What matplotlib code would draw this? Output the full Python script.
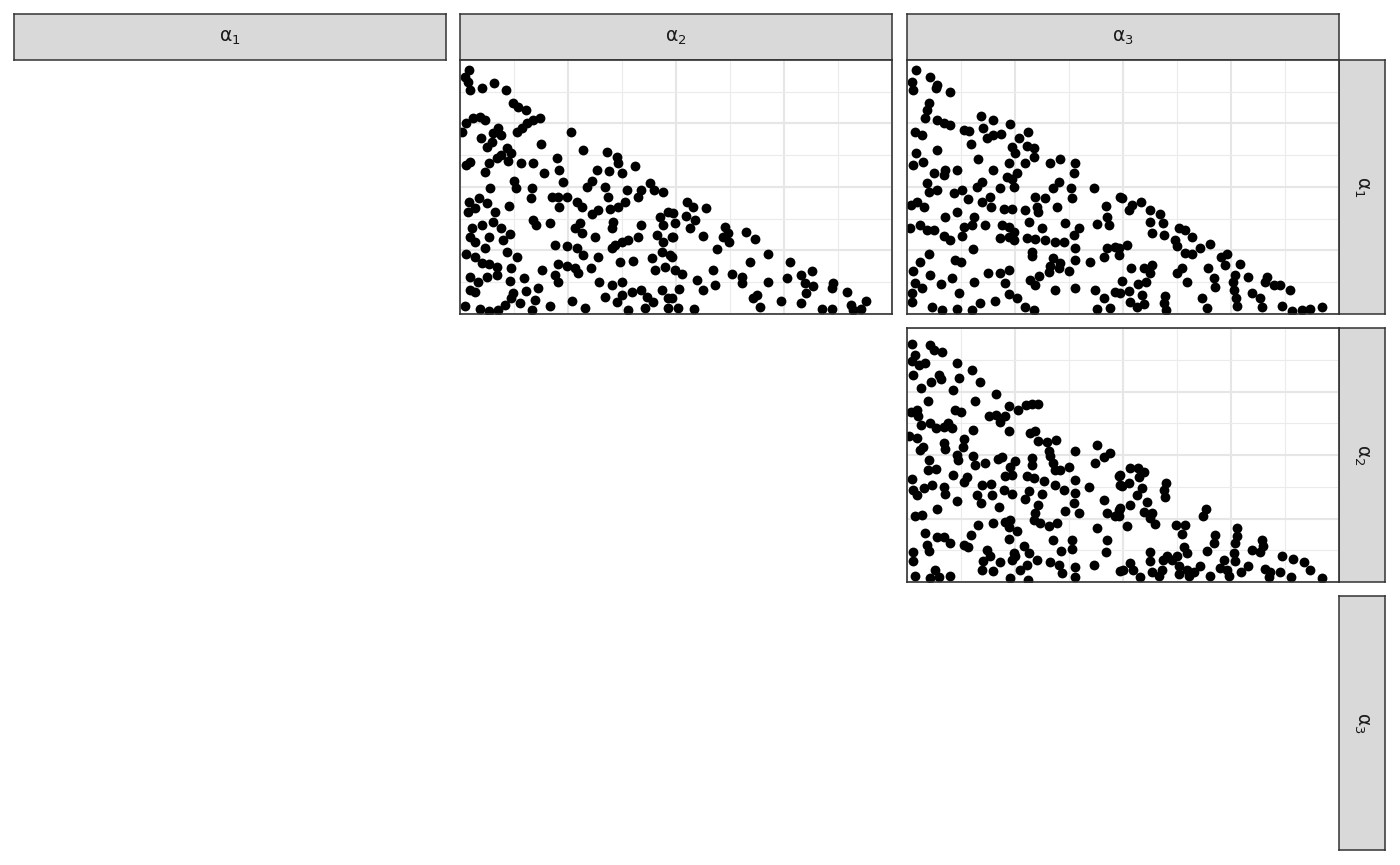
import numpy as np
import matplotlib.pyplot as plt

# Style (ggplot theme_bw look)
plt.rcParams.update({'font.family': ['DejaVu Sans'], 'font.size': 13})

labels = ['α$_1$', 'α$_2$', 'α$_3$']

# panel (row alpha1, col alpha2): (alpha2, alpha1)
pts_12 = [
    (0.021, 0.961), (0.012, 0.934), (0.019, 0.915), (0.023, 0.882), (0.050, 0.888), (0.079, 0.908),
    (0.106, 0.882), (0.123, 0.829), (0.135, 0.816), (0.152, 0.803), (0.015, 0.751), (0.031, 0.770),
    (0.046, 0.777), (0.058, 0.764), (0.004, 0.718), (0.154, 0.751), (0.170, 0.764), (0.185, 0.773),
    (0.143, 0.731), (0.131, 0.718), (0.087, 0.731), (0.077, 0.711), (0.096, 0.705), (0.048, 0.694),
    (0.073, 0.678), (0.062, 0.659), (0.258, 0.718), (0.187, 0.668), (0.108, 0.652), (0.119, 0.633),
    (0.096, 0.626), (0.085, 0.613), (0.066, 0.593), (0.059, 0.560), (0.023, 0.600), (0.015, 0.587),
    (0.112, 0.602), (0.141, 0.593), (0.170, 0.593), (0.195, 0.554), (0.224, 0.613), (0.229, 0.567),
    (0.239, 0.521), (0.285, 0.646), (0.340, 0.636), (0.363, 0.619), (0.366, 0.593), (0.405, 0.584),
    (0.316, 0.567), (0.345, 0.563), (0.374, 0.554), (0.126, 0.524), (0.129, 0.495), (0.166, 0.497),
    (0.069, 0.497), (0.164, 0.455), (0.212, 0.462), (0.227, 0.462), (0.247, 0.462), (0.229, 0.423),
    (0.270, 0.442), (0.282, 0.423), (0.293, 0.501), (0.305, 0.524), (0.336, 0.501), (0.343, 0.462),
    (0.386, 0.488), (0.411, 0.462), (0.420, 0.488), (0.440, 0.514), (0.450, 0.488), (0.471, 0.479),
    (0.382, 0.442), (0.366, 0.423), (0.347, 0.413), (0.320, 0.409), (0.305, 0.392), (0.021, 0.442),
    (0.044, 0.458), (0.062, 0.436), (0.019, 0.403), (0.035, 0.416), (0.081, 0.403), (0.113, 0.427),
    (0.170, 0.370), (0.208, 0.357), (0.177, 0.350), (0.027, 0.337), (0.050, 0.350), (0.077, 0.364),
    (0.066, 0.304), (0.023, 0.304), (0.096, 0.337), (0.116, 0.314), (0.100, 0.291), (0.108, 0.245),
    (0.058, 0.261), (0.035, 0.285), (0.015, 0.235), (0.278, 0.357), (0.266, 0.337), (0.282, 0.318),
    (0.312, 0.304), (0.355, 0.364), (0.351, 0.337), (0.420, 0.350), (0.413, 0.304), (0.390, 0.291),
    (0.374, 0.285), (0.359, 0.272), (0.351, 0.259), (0.455, 0.311), (0.463, 0.383), (0.482, 0.403),
    (0.471, 0.350), (0.490, 0.304), (0.471, 0.285), (0.220, 0.272), (0.247, 0.269), (0.270, 0.259),
    (0.285, 0.232), (0.320, 0.226), (0.370, 0.206), (0.401, 0.209), (0.444, 0.219), (0.467, 0.245),
    (0.486, 0.232), (0.451, 0.173), (0.474, 0.186), (0.131, 0.226), (0.035, 0.226), (0.050, 0.199),
    (0.066, 0.196), (0.085, 0.186), (0.119, 0.182), (0.085, 0.154), (0.023, 0.147), (0.042, 0.127),
    (0.062, 0.147), (0.023, 0.094), (0.035, 0.088), (0.227, 0.196), (0.247, 0.190), (0.266, 0.180),
    (0.274, 0.160), (0.303, 0.180), (0.220, 0.154), (0.228, 0.127), (0.190, 0.173), (0.147, 0.140),
    (0.116, 0.130), (0.322, 0.127), (0.351, 0.114), (0.374, 0.127), (0.397, 0.088), (0.420, 0.094),
    (0.374, 0.075), (0.363, 0.049), (0.432, 0.068), (0.447, 0.049), (0.467, 0.094), (0.482, 0.062),
    (0.123, 0.081), (0.152, 0.091), (0.181, 0.101), (0.174, 0.055), (0.139, 0.042), (0.119, 0.062),
    (0.208, 0.033), (0.259, 0.051), (0.289, 0.022), (0.336, 0.068), (0.428, 0.022), (0.390, 0.016),
    (0.012, 0.033), (0.046, 0.020), (0.066, 0.012), (0.089, 0.016), (0.104, 0.035), (0.166, 0.016),
    (0.482, 0.022), (0.525, 0.442), (0.539, 0.423), (0.570, 0.416), (0.494, 0.396), (0.498, 0.357),
    (0.523, 0.387), (0.544, 0.370), (0.532, 0.340), (0.494, 0.304), (0.562, 0.308), (0.613, 0.344),
    (0.609, 0.304), (0.621, 0.317), (0.623, 0.282), (0.594, 0.256), (0.662, 0.324), (0.683, 0.295),
    (0.671, 0.206), (0.714, 0.236), (0.764, 0.206), (0.490, 0.226), (0.498, 0.173), (0.515, 0.157),
    (0.548, 0.134), (0.586, 0.173), (0.590, 0.114), (0.629, 0.157), (0.652, 0.147), (0.652, 0.121),
    (0.714, 0.127), (0.756, 0.140), (0.790, 0.154), (0.814, 0.169), (0.799, 0.121), (0.818, 0.112),
    (0.801, 0.081), (0.864, 0.121), (0.861, 0.101), (0.895, 0.085), (0.508, 0.097), (0.562, 0.094),
    (0.490, 0.062), (0.505, 0.025), (0.541, 0.020), (0.687, 0.075), (0.679, 0.062), (0.694, 0.029),
    (0.743, 0.051), (0.789, 0.042), (0.837, 0.018), (0.862, 0.020), (0.906, 0.035), (0.910, 0.016),
    (0.929, 0.020), (0.940, 0.051),
]

# panel (row alpha1, col alpha3): (alpha3, alpha1)
pts_13 = [
    (0.021, 0.961), (0.054, 0.934), (0.012, 0.915), (0.015, 0.882), (0.069, 0.901), (0.066, 0.888),
    (0.100, 0.873), (0.050, 0.829), (0.046, 0.803), (0.042, 0.770), (0.069, 0.764), (0.085, 0.751),
    (0.100, 0.744), (0.019, 0.718), (0.035, 0.705), (0.131, 0.724), (0.143, 0.720), (0.172, 0.781),
    (0.200, 0.764), (0.177, 0.731), (0.185, 0.691), (0.200, 0.705), (0.218, 0.709), (0.239, 0.747),
    (0.280, 0.718), (0.260, 0.691), (0.243, 0.659), (0.251, 0.633), (0.278, 0.663), (0.293, 0.652),
    (0.293, 0.619), (0.274, 0.593), (0.147, 0.668), (0.069, 0.646), (0.021, 0.633), (0.015, 0.587),
    (0.036, 0.597), (0.164, 0.610), (0.235, 0.593), (0.332, 0.593), (0.355, 0.610), (0.390, 0.593),
    (0.386, 0.554), (0.200, 0.567), (0.231, 0.541), (0.243, 0.531), (0.255, 0.554), (0.062, 0.557),
    (0.089, 0.567), (0.085, 0.547), (0.116, 0.567), (0.046, 0.514), (0.050, 0.482), (0.069, 0.488),
    (0.108, 0.475), (0.127, 0.488), (0.141, 0.453), (0.162, 0.501), (0.174, 0.521), (0.174, 0.442),
    (0.193, 0.462), (0.195, 0.423), (0.216, 0.497), (0.247, 0.501), (0.296, 0.462), (0.320, 0.458),
    (0.301, 0.423), (0.303, 0.403), (0.339, 0.495), (0.351, 0.521), (0.347, 0.423), (0.380, 0.495),
    (0.382, 0.455), (0.432, 0.497), (0.461, 0.427), (0.494, 0.462), (0.010, 0.429), (0.023, 0.442),
    (0.039, 0.423), (0.224, 0.413), (0.243, 0.413), (0.272, 0.409), (0.089, 0.380), (0.116, 0.400),
    (0.154, 0.383), (0.150, 0.350), (0.181, 0.350), (0.131, 0.344), (0.127, 0.308), (0.008, 0.337),
    (0.031, 0.350), (0.046, 0.331), (0.062, 0.331), (0.085, 0.308), (0.100, 0.291), (0.220, 0.350),
    (0.235, 0.344), (0.247, 0.324), (0.216, 0.300), (0.235, 0.304), (0.247, 0.291), (0.282, 0.364),
    (0.278, 0.300), (0.297, 0.297), (0.312, 0.337), (0.319, 0.291), (0.343, 0.285), (0.363, 0.282),
    (0.366, 0.357), (0.397, 0.337), (0.386, 0.311), (0.440, 0.353), (0.463, 0.380), (0.467, 0.350),
    (0.390, 0.259), (0.463, 0.259), (0.482, 0.265), (0.455, 0.226), (0.424, 0.206), (0.390, 0.213),
    (0.339, 0.219), (0.355, 0.199), (0.332, 0.190), (0.328, 0.167), (0.374, 0.169), (0.351, 0.180),
    (0.152, 0.255), (0.112, 0.213), (0.126, 0.203), (0.289, 0.245), (0.289, 0.230), (0.050, 0.235),
    (0.031, 0.203), (0.015, 0.169), (0.054, 0.154), (0.104, 0.140), (0.079, 0.117), (0.019, 0.121),
    (0.035, 0.101), (0.012, 0.081), (0.012, 0.049), (0.154, 0.127), (0.187, 0.160), (0.216, 0.160),
    (0.237, 0.173), (0.228, 0.121), (0.235, 0.077), (0.255, 0.062), (0.285, 0.134), (0.297, 0.114),
    (0.305, 0.151), (0.343, 0.094), (0.390, 0.101), (0.436, 0.094), (0.455, 0.062), (0.482, 0.088),
    (0.121, 0.081), (0.170, 0.042), (0.150, 0.016), (0.204, 0.051), (0.116, 0.020), (0.081, 0.016),
    (0.058, 0.029), (0.274, 0.029), (0.293, 0.016), (0.440, 0.020), (0.471, 0.022), (0.498, 0.458),
    (0.513, 0.409), (0.521, 0.429), (0.541, 0.442), (0.563, 0.409), (0.585, 0.392), (0.563, 0.364),
    (0.567, 0.318), (0.593, 0.357), (0.594, 0.311), (0.629, 0.337), (0.644, 0.331), (0.660, 0.304),
    (0.621, 0.291), (0.625, 0.269), (0.644, 0.239), (0.660, 0.235), (0.679, 0.259), (0.701, 0.274),
    (0.509, 0.272), (0.490, 0.259), (0.490, 0.232), (0.519, 0.180), (0.548, 0.180), (0.567, 0.193),
    (0.563, 0.160), (0.498, 0.130), (0.534, 0.117), (0.554, 0.127), (0.515, 0.090), (0.492, 0.081),
    (0.517, 0.046), (0.532, 0.029), (0.548, 0.038), (0.544, 0.075), (0.598, 0.072), (0.594, 0.042),
    (0.600, 0.016), (0.625, 0.160), (0.636, 0.180), (0.647, 0.127), (0.696, 0.182), (0.711, 0.143),
    (0.714, 0.105), (0.683, 0.062), (0.694, 0.022), (0.727, 0.226), (0.741, 0.235), (0.735, 0.193),
    (0.771, 0.196), (0.760, 0.154), (0.755, 0.127), (0.756, 0.094), (0.762, 0.062), (0.764, 0.033),
    (0.789, 0.147), (0.799, 0.081), (0.818, 0.062), (0.822, 0.029), (0.833, 0.147), (0.829, 0.125),
    (0.849, 0.114), (0.864, 0.114), (0.886, 0.094), (0.868, 0.033), (0.891, 0.012), (0.914, 0.016),
    (0.932, 0.020), (0.961, 0.029),
]

# panel (row alpha2, col alpha3): (alpha3, alpha2)
pts_23 = [
    (0.012, 0.938), (0.054, 0.934), (0.062, 0.915), (0.081, 0.904), (0.018, 0.895), (0.012, 0.869),
    (0.027, 0.855), (0.041, 0.862), (0.116, 0.862), (0.150, 0.836), (0.015, 0.816), (0.073, 0.816),
    (0.079, 0.799), (0.056, 0.786), (0.121, 0.803), (0.170, 0.786), (0.033, 0.764), (0.106, 0.757),
    (0.206, 0.741), (0.048, 0.711), (0.157, 0.711), (0.235, 0.694), (0.257, 0.676), (0.275, 0.698),
    (0.289, 0.702), (0.303, 0.702), (0.010, 0.668), (0.023, 0.676), (0.025, 0.655), (0.112, 0.678),
    (0.126, 0.668), (0.190, 0.652), (0.206, 0.659), (0.228, 0.652), (0.216, 0.628), (0.033, 0.619),
    (0.054, 0.626), (0.066, 0.606), (0.085, 0.610), (0.096, 0.626), (0.104, 0.606), (0.152, 0.597),
    (0.237, 0.593), (0.285, 0.586), (0.297, 0.593), (0.005, 0.573), (0.023, 0.567), (0.131, 0.563),
    (0.303, 0.554), (0.324, 0.550), (0.345, 0.560), (0.085, 0.547), (0.089, 0.524), (0.036, 0.531),
    (0.031, 0.521), (0.129, 0.531), (0.328, 0.514), (0.390, 0.514), (0.440, 0.541), (0.471, 0.508),
    (0.455, 0.492), (0.436, 0.469), (0.116, 0.501), (0.119, 0.482), (0.152, 0.497), (0.157, 0.462),
    (0.181, 0.469), (0.211, 0.486), (0.220, 0.492), (0.249, 0.475), (0.239, 0.453), (0.228, 0.416),
    (0.243, 0.423), (0.289, 0.488), (0.289, 0.462), (0.332, 0.495), (0.339, 0.469), (0.343, 0.442),
    (0.355, 0.442), (0.374, 0.453), (0.050, 0.482), (0.048, 0.440), (0.066, 0.446), (0.106, 0.423),
    (0.012, 0.406), (0.015, 0.364), (0.023, 0.344), (0.039, 0.370), (0.059, 0.383), (0.085, 0.374),
    (0.089, 0.348), (0.131, 0.392), (0.139, 0.413), (0.174, 0.383), (0.195, 0.387), (0.162, 0.344),
    (0.172, 0.311), (0.197, 0.344), (0.224, 0.364), (0.243, 0.348), (0.278, 0.416), (0.295, 0.409),
    (0.316, 0.396), (0.282, 0.357), (0.274, 0.327), (0.312, 0.348), (0.342, 0.380), (0.363, 0.361),
    (0.390, 0.403), (0.390, 0.350), (0.386, 0.311), (0.422, 0.374), (0.455, 0.324), (0.490, 0.419),
    (0.494, 0.380), (0.116, 0.318), (0.069, 0.287), (0.019, 0.259), (0.035, 0.265), (0.214, 0.295),
    (0.303, 0.304), (0.297, 0.272), (0.293, 0.245), (0.309, 0.232), (0.328, 0.219), (0.347, 0.232),
    (0.366, 0.278), (0.397, 0.272), (0.463, 0.272), (0.482, 0.259), (0.494, 0.291), (0.164, 0.226),
    (0.200, 0.232), (0.228, 0.235), (0.239, 0.245), (0.235, 0.217), (0.255, 0.199), (0.235, 0.169),
    (0.149, 0.186), (0.042, 0.193), (0.046, 0.147), (0.050, 0.121), (0.069, 0.176), (0.085, 0.176),
    (0.100, 0.154), (0.131, 0.147), (0.141, 0.138), (0.185, 0.127), (0.193, 0.101), (0.177, 0.081),
    (0.174, 0.049), (0.200, 0.042), (0.216, 0.077), (0.247, 0.114), (0.251, 0.101), (0.243, 0.085),
    (0.270, 0.140), (0.282, 0.114), (0.301, 0.088), (0.278, 0.068), (0.262, 0.049), (0.239, 0.016),
    (0.280, 0.009), (0.339, 0.167), (0.382, 0.164), (0.357, 0.121), (0.382, 0.130), (0.332, 0.077),
    (0.351, 0.068), (0.359, 0.035), (0.388, 0.059), (0.390, 0.020), (0.432, 0.068), (0.440, 0.213),
    (0.463, 0.167), (0.460, 0.117), (0.494, 0.042), (0.015, 0.117), (0.013, 0.081), (0.019, 0.025),
    (0.054, 0.016), (0.064, 0.046), (0.073, 0.020), (0.100, 0.025), (0.494, 0.423), (0.498, 0.377),
    (0.517, 0.449), (0.534, 0.449), (0.548, 0.432), (0.538, 0.413), (0.515, 0.390), (0.544, 0.370),
    (0.533, 0.344), (0.556, 0.315), (0.517, 0.304), (0.490, 0.285), (0.490, 0.259), (0.509, 0.222),
    (0.548, 0.274), (0.567, 0.272), (0.563, 0.252), (0.575, 0.230), (0.600, 0.390), (0.594, 0.364),
    (0.598, 0.335), (0.691, 0.287), (0.685, 0.259), (0.623, 0.226), (0.644, 0.226), (0.636, 0.190),
    (0.714, 0.186), (0.710, 0.154), (0.694, 0.121), (0.764, 0.213), (0.763, 0.180), (0.760, 0.154),
    (0.756, 0.114), (0.760, 0.081), (0.733, 0.088), (0.741, 0.049), (0.725, 0.055), (0.745, 0.022),
    (0.773, 0.038), (0.789, 0.064), (0.821, 0.167), (0.825, 0.140), (0.799, 0.127), (0.818, 0.117),
    (0.868, 0.104), (0.894, 0.091), (0.918, 0.077), (0.932, 0.049), (0.961, 0.016), (0.829, 0.051),
    (0.841, 0.038), (0.837, 0.020), (0.864, 0.038), (0.888, 0.020), (0.563, 0.118), (0.563, 0.081),
    (0.567, 0.038), (0.540, 0.020), (0.517, 0.076), (0.501, 0.049), (0.523, 0.046), (0.593, 0.088),
    (0.602, 0.101), (0.590, 0.049), (0.583, 0.025), (0.614, 0.085), (0.625, 0.104), (0.629, 0.062),
    (0.641, 0.138), (0.648, 0.116), (0.629, 0.033), (0.648, 0.046), (0.664, 0.038), (0.679, 0.062),
    (0.702, 0.025), (0.652, 0.022),
]

panels = {(0, 1): pts_12, (0, 2): pts_13, (1, 2): pts_23}

W, H = 1400, 865
fig = plt.figure(figsize=(14, 8.65), dpi=100)

col_x = [14, 460, 907]
row_y = [60, 328, 596]
pw, ph = 432, 254
strip = 46
border = '#333333'


def fig_rect(x, y, w, h):
    # pixel box (top-left origin) -> figure fraction
    return [x / W, 1 - (y + h) / H, w / W, h / H]


def strip_axes(rect, text, rotation=0):
    sa = fig.add_axes(rect)
    sa.set_facecolor('#D9D9D9')
    sa.set_xticks([])
    sa.set_yticks([])
    for sp in sa.spines.values():
        sp.set_color(border)
        sp.set_linewidth(1.1)
    sa.text(0.5, 0.5, text, ha='center', va='center', rotation=rotation,
            color='#1A1A1A', fontsize=13.5, transform=sa.transAxes)


# Column strips (top)
for j in range(3):
    strip_axes(fig_rect(col_x[j], 14, pw, strip), labels[j])

# Row strips (right)
for i in range(3):
    strip_axes(fig_rect(1339, row_y[i], strip, ph), labels[i], rotation=270)

major = [0, 0.25, 0.5, 0.75, 1]
minor = [0.125, 0.375, 0.625, 0.875]

for (i, j), pts in panels.items():
    ax = fig.add_axes(fig_rect(col_x[j], row_y[i], pw, ph))
    arr = np.array(pts)
    ax.set_xlim(0, 1)
    ax.set_ylim(0, 1)
    ax.set_xticks(major)
    ax.set_yticks(major)
    ax.set_xticks(minor, minor=True)
    ax.set_yticks(minor, minor=True)
    ax.tick_params(which='both', length=0, labelbottom=False, labelleft=False)
    ax.grid(True, which='major', color='#E6E6E6', linewidth=1.5)
    ax.grid(True, which='minor', color='#EBEBEB', linewidth=0.8)
    ax.set_axisbelow(True)
    ax.scatter(arr[:, 0], arr[:, 1], s=50, color='black', linewidths=0, zorder=3)
    for sp in ax.spines.values():
        sp.set_color(border)
        sp.set_linewidth(1.2)
        sp.set_zorder(4)

fig.savefig('out.png', dpi=100)
